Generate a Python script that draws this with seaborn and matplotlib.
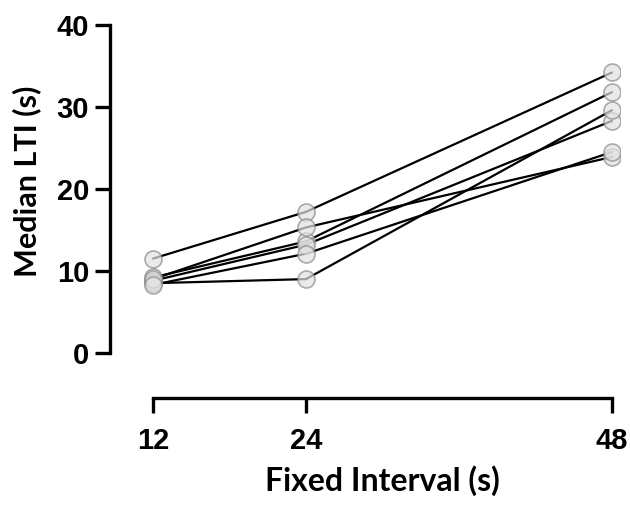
import numpy as np
import pandas as pd
import matplotlib
matplotlib.use("Agg")
import matplotlib.pyplot as plt
import seaborn as sns

# median LTI per subject at each fixed interval
intervals = [12, 24, 48]
subjects = ["A", "B", "C", "D", "E", "F"]
lti_a = [11.5, 17.2, 34.2]
lti_b = [9.2, 13.6, 31.8]
lti_c = [8.8, 13.2, 28.3]
lti_d = [8.5, 9.0, 29.6]
lti_e = [9.0, 15.3, 23.9]
lti_f = [8.3, 12.1, 24.5]
y_ticks = [0, 10, 20, 30, 40]

series = [lti_a, lti_b, lti_c, lti_d, lti_e, lti_f]
rows = []
for s, vals in zip(subjects, series):
    for fi, v in zip(intervals, vals):
        rows.append({"subject": s, "fi": fi, "lti": v})
df = pd.DataFrame(rows)

sns.set_style("ticks")
plt.rcParams["font.family"] = ["Liberation Sans", "DejaVu Sans"]
plt.rcParams["text.color"] = "black"
plt.rcParams["axes.labelcolor"] = "black"
plt.rcParams["xtick.color"] = "black"
plt.rcParams["ytick.color"] = "black"
plt.rcParams["axes.edgecolor"] = "black"

fig = plt.figure(figsize=(6.3, 5.07), dpi=100)
ax = fig.add_axes([110 / 630, 109 / 507, 510 / 630, 378 / 507])

sns.lineplot(data=df, x="fi", y="lti", units="subject", estimator=None,
             color="black", linewidth=1.6, ax=ax, zorder=2)
sns.scatterplot(data=df, x="fi", y="lti", s=150, color="#e2e2e2",
                edgecolor="#8a8a8a", linewidth=1.2, alpha=0.7, ax=ax, zorder=3)

ax.set_xlim(8.63, 48.63)
ax.set_ylim(-5.5, 40.6)
ax.set_xticks(intervals)
ax.set_yticks(y_ticks)

for side in ["top", "right"]:
    ax.spines[side].set_visible(False)
ax.spines["left"].set_bounds(0, 40)
ax.spines["bottom"].set_bounds(12, 48)
for side in ["left", "bottom"]:
    ax.spines[side].set_linewidth(2.4)

ax.tick_params(axis="both", width=2.4, length=11, labelsize=21)
ax.tick_params(axis="y", pad=4)
ax.tick_params(axis="x", pad=10)
for lab in ax.get_xticklabels() + ax.get_yticklabels():
    lab.set_fontweight("bold")

ax.set_ylabel("Median LTI (s)", fontsize=22, fontweight="bold",
              family=["Lato", "DejaVu Sans"])
ax.yaxis.set_label_coords(-0.135, 0.574)
ax.set_xlabel("Fixed Interval (s)", fontsize=23, fontweight="bold",
              family=["Lato", "DejaVu Sans"])
ax.xaxis.set_label_coords(0.535, -0.178)

fig.savefig("out.png", dpi=100)
